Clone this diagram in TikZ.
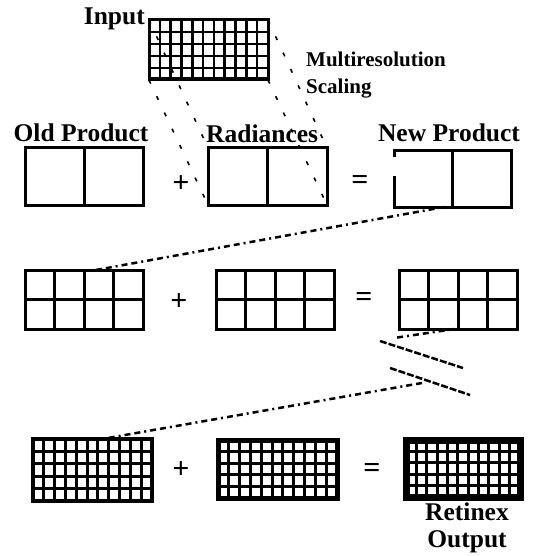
\documentclass[tikz,border=0pt]{standalone}
\usepackage{fontspec}
\setmainfont{Liberation Serif}
\usetikzlibrary{calc}
\tikzset{
  lbl/.style={font=\bfseries\fontsize{25.5}{25.5}\selectfont, inner sep=0pt},
  smalllbl/.style={font=\bfseries\fontsize{21}{21}\selectfont, inner sep=0pt},
  op/.style={font=\bfseries\fontsize{30}{30}\selectfont, inner sep=0pt},
  boxnode/.style={draw, inner sep=0pt, outer sep=0pt},
  scaleline/.style={line width=1.6pt, dash pattern=on 4pt off 14pt},
  dashdotline/.style={line width=2.5pt, dash pattern=on 6pt off 4pt on 6pt off 4pt on 2pt off 4pt},
  breakline/.style={line width=2.5pt, dash pattern=on 7pt off 2pt},
}
\newcommand\gridbox[9]{%
  \pgfmathsetmacro\gbw{#4-#2}%
  \pgfmathsetmacro\gbh{#5-#3}%
  \pgfmathtruncatemacro\gbnc{#6-1}%
  \pgfmathtruncatemacro\gbnr{#7-1}%
  \node[boxnode, line width=#8, minimum width=\gbw pt, minimum height=\gbh pt] (#1) at ({(#2+#4)/2},{(#3+#5)/2}) {};
  \foreach \i in {1,...,\gbnc} {
    \draw[line width=#9] ($(#1.north west)+({\i*\gbw/#6},0)$) -- ($(#1.south west)+({\i*\gbw/#6},0)$);
  }
  \foreach \j in {1,...,\gbnr} {
    \draw[line width=#9] ($(#1.north west)+(0,{\j*\gbh/#7})$) -- ($(#1.north east)+(0,{\j*\gbh/#7})$);
  }
}
\begin{document}
\begin{tikzpicture}[x=1pt,y=-1pt]
\useasboundingbox (0,0) rectangle (543,556);

% input grid
\gridbox{inbox}{149}{20}{268}{80}{11}{5}{3pt}{2.5pt}
\draw[line width=3pt] ($(inbox.south west)+(0,-1.5)$) -- ($(inbox.south east)+(0,-1.5)$);
\node[lbl, anchor=base east] (inlbl) at (145,25) {Input};
\node[smalllbl, anchor=base west] (multi) at (306,67) {Multiresolution};
\node[smalllbl, anchor=base west] (scal) at (306,94) {Scaling};

% row 1
\gridbox{oldbox}{25}{148}{143}{205}{2}{1}{3pt}{3pt}
\gridbox{radbox}{208}{148}{327}{205}{2}{1}{3pt}{3pt}
\gridbox{newbox}{394}{151}{511}{207}{2}{1}{3pt}{3pt}
\fill[white] ($(newbox.north west)+(-3,6)$) rectangle ($(newbox.north west)+(3,25)$);
\node[lbl, anchor=base] (oldlbl) at (81,142) {Old Product};
\node[lbl, anchor=base west] (radlbl) at (206,143) {Radiances};
\node[lbl, anchor=base] (newlbl) at (449,142) {New Product};
\node[op] (p1) at (181,184) {+};
\node[op] (e1) at (360,182) {=};

% row 2
\gridbox{rowa}{25}{270}{143}{329}{4}{2}{3pt}{3pt}
\gridbox{rowb}{216}{270}{334}{329}{4}{2}{3pt}{3pt}
\gridbox{rowc}{399}{270}{517}{329}{4}{2}{3pt}{3pt}
\node[op] (p2) at (179,302) {+};
\node[op] (e2) at (364,299) {=};

% row 3
\gridbox{fina}{33}{439}{152}{501}{11}{5}{4pt}{3pt}
\gridbox{finb}{218}{440}{337}{498}{11}{5}{5pt}{3pt}
\gridbox{finc}{406}{440}{520}{497}{11}{5}{7pt}{3pt}
\node[op] (p3) at (181,470) {+};
\node[op] (e3) at (372,470) {=};
\node[lbl, anchor=base] (retlbl) at (467,520) {Retinex};
\node[lbl, anchor=base] (outlbl) at (467,547) {Output};

% multiresolution scaling lines
\draw[scaleline] (inbox.north west) -- (radbox.north west);
\draw[scaleline] (inbox.south west) -- (radbox.south west);
\draw[scaleline] (inbox.north east) -- (radbox.north east);
\draw[scaleline] (inbox.south east) -- (radbox.south east);

% level connectors
\draw[dashdotline] ($(newbox.south west)!0.43!(newbox.south east)$) -- ($(rowa.north west)!0.6!(rowa.north east)$);
\coordinate (bA) at (394,338);
\draw[dashdotline] ($(rowc.south west)!0.47!(rowc.south east)$) -- (bA);
\coordinate (bB1) at (380,341);
\coordinate (bB2) at (463,368);
\draw[breakline] (bB1) -- (bB2);
\coordinate (bC1) at (390,368);
\coordinate (bC2) at (470,395);
\draw[breakline] (bC1) -- (bC2);
\coordinate (bD) at (422,383);
\draw[dashdotline] (bD) -- ($(fina.north west)!0.58!(fina.north east)$);
\end{tikzpicture}
\end{document}
